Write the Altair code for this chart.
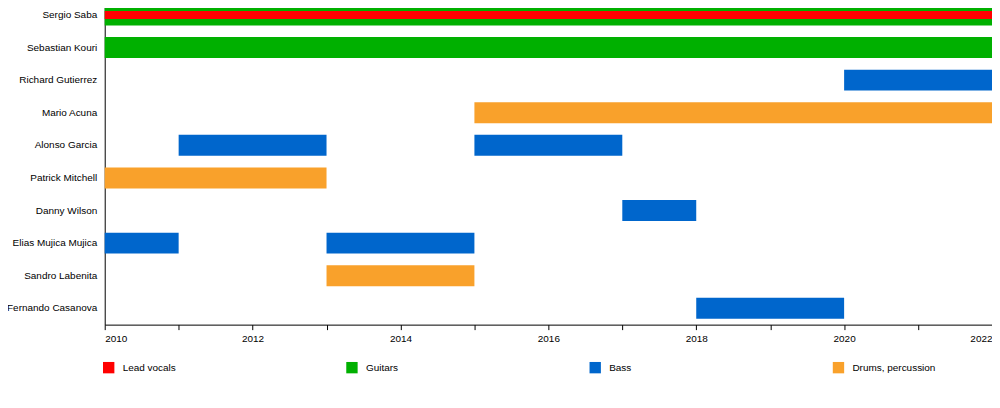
import altair as alt
import pandas as pd

members = ["Sergio Saba", "Sebastian Kouri", "Richard Gutierrez", "Mario Acuna",
           "Alonso Garcia", "Patrick Mitchell", "Danny Wilson", "Elias Mujica Mujica",
           "Sandro Labenita", "Fernando Casanova"]
roles = ["Lead vocals", "Guitars", "Bass", "Drums, percussion"]
colors = ["#ff0000", "#00b000", "#0066cc", "#f9a12b"]

bar_member = ["Sergio Saba", "Sebastian Kouri", "Richard Gutierrez", "Mario Acuna",
              "Alonso Garcia", "Alonso Garcia", "Patrick Mitchell", "Danny Wilson",
              "Elias Mujica Mujica", "Elias Mujica Mujica", "Sandro Labenita", "Fernando Casanova"]
bar_role = ["Guitars", "Guitars", "Bass", "Drums, percussion", "Bass", "Bass",
            "Drums, percussion", "Bass", "Bass", "Bass", "Drums, percussion", "Bass"]
bar_start = [2010, 2010, 2020, 2015, 2011, 2015, 2010, 2017, 2010, 2013, 2013, 2018]
bar_end = [2022, 2022, 2022, 2022, 2013, 2017, 2013, 2018, 2011, 2015, 2015, 2020]

# thin lead vocals bar on top of Sergio's guitar bar
vocal_member = ["Sergio Saba"]
vocal_role = ["Lead vocals"]
vocal_start = [2010]
vocal_end = [2022]

bars = pd.DataFrame({"member": bar_member, "role": bar_role, "start": bar_start, "end": bar_end})
vocals = pd.DataFrame({"member": vocal_member, "role": vocal_role, "start": vocal_start, "end": vocal_end})

font = "Liberation Sans"
color = alt.Color("role:N", scale=alt.Scale(domain=roles, range=colors),
                  legend=alt.Legend(title=None, orient="none", legendX=-2, legendY=354,
                                    direction="horizontal", columns=4, gridAlign="all",
                                    symbolType="square", symbolSize=130, symbolStrokeWidth=0,
                                    symbolOpacity=1, labelFont=font, labelFontSize=10,
                                    labelColor="#000", columnPadding=140, labelOffset=8))
x = alt.X("start:Q", title=None,
          scale=alt.Scale(domain=[2010, 2022], nice=False, zero=False),
          axis=alt.Axis(values=list(range(2010, 2023)),
                        labelExpr="datum.value % 2 == 0 ? datum.value : ''",
                        grid=False, domainColor="#000", tickColor="#000", tickSize=5,
                        labelFont=font, labelFontSize=10, labelColor="#000", labelPadding=4))
y = alt.Y("member:N", title=None, sort=members,
          scale=alt.Scale(domain=members, range=[-10, 317], paddingInner=0, paddingOuter=0),
          axis=alt.Axis(ticks=False, domainColor="#000", labelFont=font, labelFontSize=10,
                        labelColor="#000", labelPadding=8, labelLimit=200))

main = alt.Chart(bars).mark_bar(size=21, opacity=1).encode(x=x, x2="end:Q", y=y, color=color)
voc = alt.Chart(vocals).mark_bar(size=8, opacity=1).encode(x=x, x2="end:Q", y=y, color=color)

chart = alt.layer(main, voc).properties(
    width=890, height=317,
    autosize=alt.AutoSizeParams(type="none"),
    padding={"left": 97, "top": 0, "right": 0, "bottom": 75},
).configure_view(stroke=None)

chart.save("out.html", embed_options={"renderer": "svg", "actions": False})
